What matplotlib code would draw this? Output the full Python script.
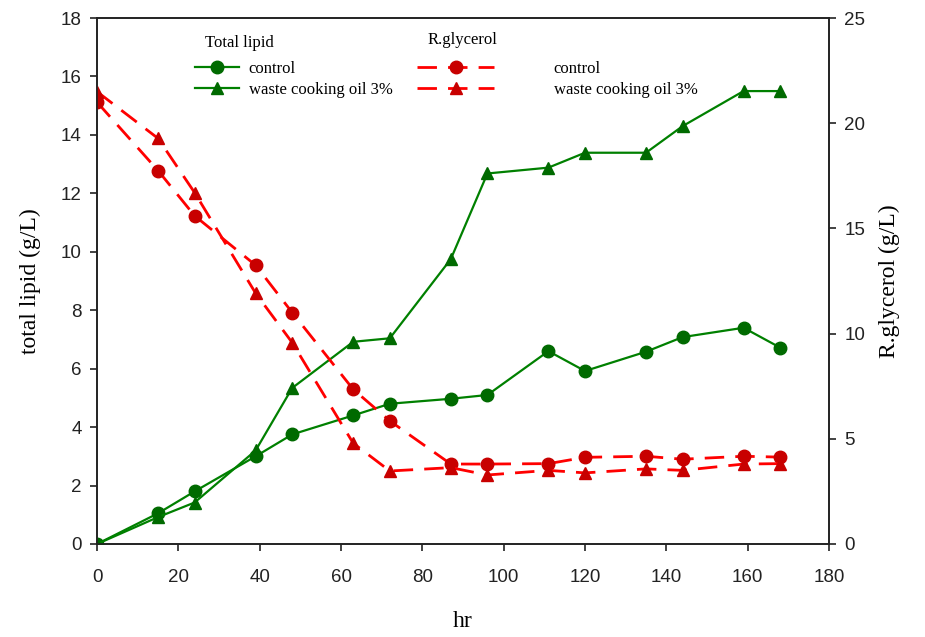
import matplotlib.pyplot as plt
from matplotlib.lines import Line2D

hours = [0, 15, 24, 39, 48, 63, 72, 87, 96, 111, 120, 135, 144, 159, 168]

lipid_control = [0, 1.05, 1.8, 3.0, 3.75, 4.4, 4.8, 4.97, 5.1, 6.6, 5.92, 6.58, 7.08, 7.4, 6.72]
lipid_oil = [0, 0.92, 1.42, 3.2, 5.34, 6.92, 7.04, 9.75, 12.68, 12.88, 13.39, 13.39, 14.3, 15.5, 15.5]

glyc_control = [21.0, 17.75, 15.6, 13.25, 11.0, 7.35, 5.85, 3.8, 3.8, 3.82, 4.12, 4.17, 4.03, 4.17, 4.13]
glyc_oil = [21.5, 19.28, 16.7, 11.92, 9.57, 4.79, 3.47, 3.63, 3.28, 3.5, 3.38, 3.57, 3.5, 3.8, 3.82]

green = '#008000'
green_dark = '#006A00'
red = '#FF0000'
red_dark = '#C80000'
dash = (0, (7, 4))

plt.rcParams['font.family'] = 'Liberation Sans'

fig = plt.figure(figsize=(9.25, 6.37), dpi=100)
ax = fig.add_axes([0.1049, 0.146, 0.7913, 0.8257])
ax2 = ax.twinx()

ax.plot(hours, lipid_control, color=green, lw=1.6, marker='o', ms=9,
        mfc=green_dark, mec=green_dark, zorder=3)
ax.plot(hours, lipid_oil, color=green, lw=1.6, marker='^', ms=9,
        mfc=green_dark, mec=green_dark, zorder=3)
ax2.plot(hours, glyc_control, color=red, lw=2, ls=dash, marker='o', ms=9,
         mfc=red_dark, mec=red_dark)
ax2.plot(hours, glyc_oil, color=red, lw=2, ls=dash, marker='^', ms=9,
         mfc=red_dark, mec=red_dark)

ax.set_xlim(0, 180)
ax.set_ylim(0, 18)
ax2.set_ylim(0, 25)
ax.set_xticks(range(0, 181, 20))
ax.set_yticks(range(0, 19, 2))
ax2.set_yticks(range(0, 26, 5))

for a in (ax, ax2):
    a.tick_params(direction='out', length=5, width=1.2, labelsize=13.5, colors='#222222')
    for s in a.spines.values():
        s.set_linewidth(1.2)
        s.set_color('#222222')
ax.tick_params(axis='x', pad=13)
ax.tick_params(axis='y', pad=6)
ax2.tick_params(axis='y', pad=6)

serif = 'Liberation Serif'
ax.set_xlabel('hr', family=serif, fontsize=17, labelpad=18)
ax.set_ylabel('total lipid (g/L)', family=serif, fontsize=17, labelpad=14)
ax2.set_ylabel('R.glycerol (g/L)', family=serif, fontsize=17, labelpad=10)

# legends: two blocks, each with its own heading
fig.text(0.222, 0.933, 'Total lipid', family=serif, fontsize=12, va='center')
fig.text(0.462, 0.937, 'R.glycerol', family=serif, fontsize=12, va='center')

h_green = [Line2D([], [], color=green, lw=1.6, marker=m, ms=9, mfc=green_dark, mec=green_dark)
           for m in ('o', '^')]
h_red = [Line2D([], [], color=red, lw=2, ls=dash, marker=m, ms=9, mfc=red_dark, mec=red_dark)
         for m in ('o', '^')]
labels = ['control', 'waste cooking oil 3%']

leg1 = fig.legend(h_green, labels, loc='upper left', bbox_to_anchor=(0.211, 0.905),
                  frameon=False, prop={'family': serif, 'size': 12},
                  handlelength=2.6, handletextpad=0.6, labelspacing=0.3,
                  borderaxespad=0, borderpad=0)
leg2 = fig.legend(h_red, labels, loc='upper left', bbox_to_anchor=(0.451, 0.905),
                  frameon=False, prop={'family': serif, 'size': 12},
                  handlelength=4.6, handletextpad=3.6, labelspacing=0.3,
                  borderaxespad=0, borderpad=0)

fig.savefig('out.png', dpi=100)
